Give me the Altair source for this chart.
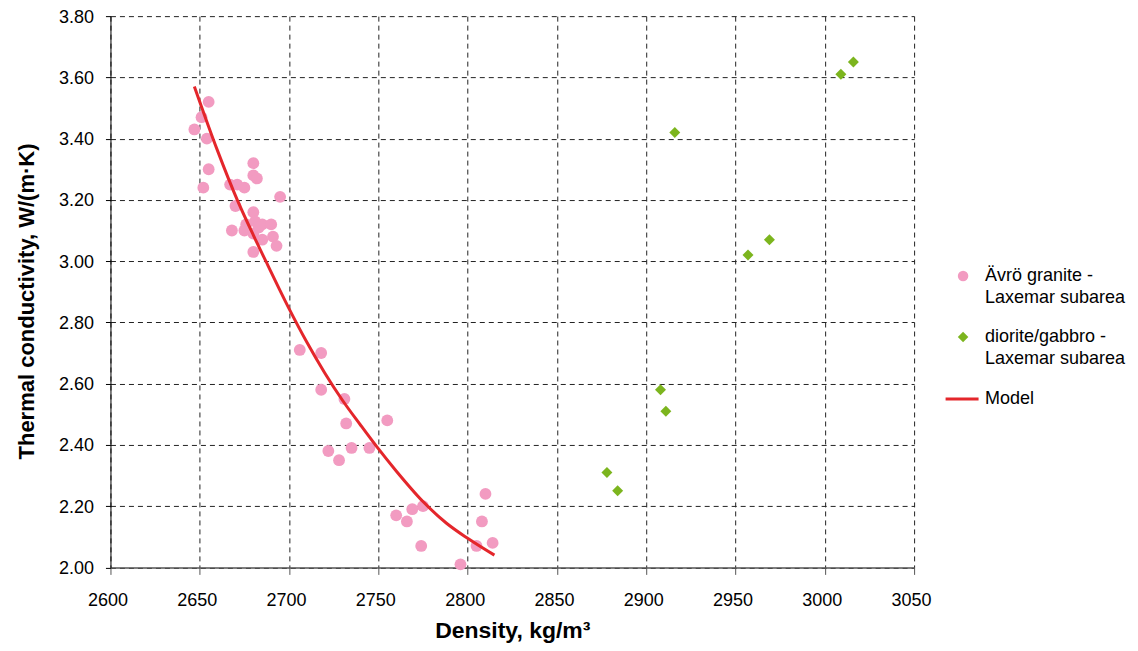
import altair as alt
import pandas as pd

# ---------------- data ----------------
granite_density = [2655, 2651, 2647, 2654, 2655, 2652, 2680, 2680, 2682, 2667,
                   2671, 2675, 2695, 2670, 2680, 2668, 2675, 2676, 2681, 2685,
                   2690, 2680, 2683, 2685, 2691, 2693, 2680,
                   2706, 2718, 2718, 2731, 2732, 2755, 2722, 2735, 2745, 2728,
                   2810, 2769, 2775, 2760, 2766, 2808, 2774, 2805, 2814, 2796]
granite_k = [3.52, 3.47, 3.43, 3.40, 3.30, 3.24, 3.32, 3.28, 3.27, 3.25,
             3.25, 3.24, 3.21, 3.18, 3.16, 3.10, 3.10, 3.12, 3.13, 3.12,
             3.12, 3.09, 3.11, 3.07, 3.08, 3.05, 3.03,
             2.71, 2.70, 2.58, 2.55, 2.47, 2.48, 2.38, 2.39, 2.39, 2.35,
             2.24, 2.19, 2.20, 2.17, 2.15, 2.15, 2.07, 2.07, 2.08, 2.01]

diorite_density = [2878, 2884, 2908, 2911, 2916, 2957, 2969, 3009, 3016]
diorite_k = [2.31, 2.25, 2.58, 2.51, 3.42, 3.02, 3.07, 3.61, 3.65]

model_density = [2647, 2660, 2671, 2680, 2687, 2700, 2710, 2720, 2730, 2740,
                 2749, 2760, 2775, 2788, 2800, 2815]
model_k = [3.57, 3.36, 3.20, 3.085, 3.00, 2.845, 2.735, 2.635, 2.545, 2.465,
           2.395, 2.315, 2.215, 2.145, 2.095, 2.04]

x_ticks = [2600, 2650, 2700, 2750, 2800, 2850, 2900, 2950, 3000, 3050]
y_ticks = [2.0, 2.2, 2.4, 2.6, 2.8, 3.0, 3.2, 3.4, 3.6, 3.8]

granite_label = "Ävrö granite -|Laxemar subarea"
diorite_label = "diorite/gabbro -|Laxemar subarea"
model_label = "Model"

PINK = "#F29BC1"
GREEN = "#7CB51E"
RED = "#E4262B"
FONT = "Liberation Sans"

granite_df = pd.DataFrame({"density": granite_density, "k": granite_k,
                           "series": granite_label})
diorite_df = pd.DataFrame({"density": diorite_density, "k": diorite_k,
                           "series": diorite_label})
model_df = pd.DataFrame({"density": model_density, "k": model_k,
                         "series": model_label})

x_enc = alt.X("density:Q",
              scale=alt.Scale(domain=[2600, 3050], nice=False, zero=False),
              axis=alt.Axis(values=x_ticks, format="d", title="Density, kg/m³",
                            domainColor="#555", domainWidth=1.5,
                            tickColor="#555", tickSize=7, labelPadding=17,
                            labelFlush=False, labelOffset=-3,
                            titleFontSize=23,
                            titleBaseline="alphabetic", titleY=70))
y_enc = alt.Y("k:Q",
              scale=alt.Scale(domain=[2.0, 3.8], nice=False, zero=False),
              axis=alt.Axis(values=y_ticks, format=".2f",
                            title="Thermal conductivity, W/(m·K)",
                            domainColor="black", tickColor="black",
                            tickSize=5, labelPadding=12, labelOffset=1,
                            labelFlush=False,
                            titleFontSize=22,
                            titleBaseline="alphabetic", titleX=-77, titleY=285))

def pt_legend(x, y, shape):
    return alt.Legend(title=None, orient="none", legendX=x, legendY=y,
                      labelExpr="split(datum.label, '|')",
                      labelBaseline="middle", labelFontSize=18, labelFont=FONT,
                      labelColor="black", labelOffset=13, labelLimit=400,
                      symbolType=shape, symbolSize=110, symbolStrokeWidth=0,
                      padding=0)

granite = alt.Chart(granite_df).mark_point(
    shape="circle", filled=True, size=140, opacity=1
).encode(
    x=x_enc, y=y_enc,
    color=alt.Color("series:N",
                    scale=alt.Scale(domain=[granite_label], range=[PINK]),
                    legend=pt_legend(844, 251, "circle")),
)

diorite = alt.Chart(diorite_df).mark_point(
    shape="diamond", filled=True, size=120, opacity=1
).encode(
    x=x_enc, y=y_enc,
    color=alt.Color("series:N",
                    scale=alt.Scale(domain=[diorite_label], range=[GREEN]),
                    legend=pt_legend(844, 312, "diamond")),
)

model = alt.Chart(model_df).mark_line(
    strokeWidth=3, interpolate="monotone"
).encode(
    x=x_enc, y=y_enc,
    color=alt.Color("series:N",
                    scale=alt.Scale(domain=[model_label], range=[RED]),
                    legend=alt.Legend(title=None, orient="none",
                                      legendX=834, legendY=365,
                                      labelFontSize=18, labelFont=FONT,
                                      labelColor="black", labelOffset=5,
                                      labelBaseline="middle",
                                      symbolType="stroke", symbolSize=1089,
                                      symbolStrokeWidth=3, padding=0)),
)

chart = alt.layer(granite, diorite, model).resolve_scale(
    color="independent"
).properties(
    width=804, height=551.5,
    padding={"left": 102.5, "top": 8, "right": 216, "bottom": 80},
    autosize=alt.AutoSizeParams(type="none"),
).configure(
    style={"guide-label": {"lineHeight": 22}}
).configure_view(
    stroke=None
).configure_axis(
    grid=True, gridDash=[5, 4], gridColor="#222", gridWidth=1, gridOpacity=1,
    labelFont=FONT, labelFontSize=18, labelColor="black",
    titleFont=FONT, titleFontWeight="bold",
    titleColor="black",
)

chart.save("out.html", embed_options={"renderer": "svg", "actions": False})
